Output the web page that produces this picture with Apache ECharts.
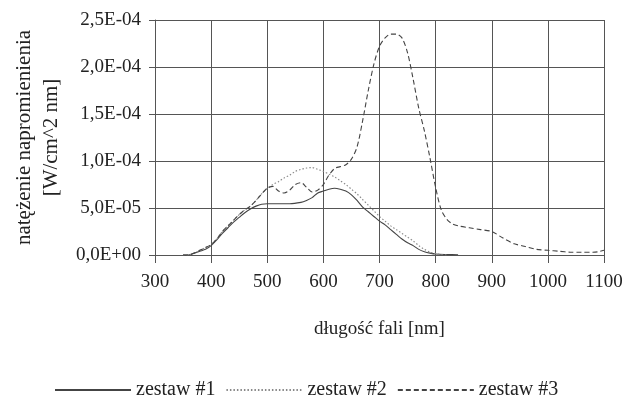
<!DOCTYPE html>
<html>
<head>
<meta charset="utf-8">
<script src="https://cdn.jsdelivr.net/npm/echarts@6/dist/echarts.min.js"></script>
<style>
html,body{margin:0;padding:0;background:#fff;}
#chart{width:626px;height:400px;}
</style>
</head>
<body>
<div id="chart"></div>
<script>
// ---- data ----
const xTicks = [300, 400, 500, 600, 700, 800, 900, 1000, 1100];
const yTicks = [0, 5e-5, 1e-4, 1.5e-4, 2e-4, 2.5e-4];

const seriesNames = ['zestaw #1', 'zestaw #2', 'zestaw #3'];

const wl1 = [350,360,370,380,390,400,410,420,430,440,450,460,470,480,490,500,520,540,560,570,580,590,600,610,620,630,640,650,660,670,680,690,700,710,720,730,740,750,760,770,780,790,800,820,840];
const val1 = [0,0,0.2e-5,0.4e-5,0.6e-5,1.0e-5,1.6e-5,2.3e-5,2.9e-5,3.5e-5,4.0e-5,4.5e-5,4.9e-5,5.2e-5,5.4e-5,5.45e-5,5.45e-5,5.45e-5,5.6e-5,5.8e-5,6.1e-5,6.6e-5,6.8e-5,7.0e-5,7.1e-5,7.0e-5,6.8e-5,6.4e-5,5.8e-5,5.1e-5,4.6e-5,4.1e-5,3.6e-5,3.2e-5,2.7e-5,2.2e-5,1.7e-5,1.3e-5,1.0e-5,0.6e-5,0.35e-5,0.2e-5,0.1e-5,0.05e-5,0.02e-5];

const wl2 = [350,360,370,380,390,400,410,420,430,440,450,460,470,480,490,500,510,520,530,540,550,560,570,580,590,600,610,620,630,640,650,660,670,680,690,700,710,720,730,740,750,760,770,780,790,800,810,820];
const val2 = [0,0,0.2e-5,0.5e-5,0.8e-5,1.1e-5,1.7e-5,2.5e-5,3.1e-5,3.7e-5,4.3e-5,4.8e-5,5.2e-5,5.8e-5,6.5e-5,7.1e-5,7.5e-5,7.8e-5,8.2e-5,8.5e-5,8.9e-5,9.1e-5,9.25e-5,9.3e-5,9.1e-5,8.9e-5,8.6e-5,8.3e-5,7.9e-5,7.5e-5,7.0e-5,6.5e-5,5.9e-5,5.3e-5,4.7e-5,4.1e-5,3.6e-5,3.1e-5,2.7e-5,2.3e-5,1.9e-5,1.5e-5,1.0e-5,0.6e-5,0.3e-5,0.15e-5,0.05e-5,0];

const wl3 = [350,360,370,380,390,400,410,420,430,440,450,460,470,480,490,500,510,520,530,540,550,560,570,580,590,600,610,620,630,640,650,660,670,680,690,700,710,720,730,740,750,760,770,780,790,800,810,820,830,840,860,880,900,920,940,960,980,1000,1020,1040,1060,1080,1090,1100];
const val3 = [0,0,0.2e-5,0.5e-5,0.8e-5,1.1e-5,1.7e-5,2.5e-5,3.1e-5,3.7e-5,4.3e-5,4.8e-5,5.2e-5,5.8e-5,6.5e-5,7.1e-5,7.3e-5,6.8e-5,6.6e-5,6.9e-5,7.5e-5,7.7e-5,7.2e-5,6.7e-5,6.9e-5,7.5e-5,8.5e-5,9.2e-5,9.4e-5,9.6e-5,10.2e-5,11.5e-5,14.3e-5,17.5e-5,20.3e-5,22.2e-5,23.1e-5,23.5e-5,23.5e-5,23.1e-5,21.5e-5,18.7e-5,15.6e-5,13.2e-5,10.3e-5,7.2e-5,4.8e-5,3.8e-5,3.3e-5,3.1e-5,2.9e-5,2.7e-5,2.5e-5,1.8e-5,1.2e-5,0.9e-5,0.6e-5,0.5e-5,0.4e-5,0.3e-5,0.3e-5,0.3e-5,0.35e-5,0.5e-5];

const xAxisTitle = 'długość fali [nm]';
const yAxisTitle = 'natężenie napromienienia\n[W/cm^2 nm]';

// ---- helpers ----
function pairs(xs, ys) { return xs.map((x, i) => [x, ys[i]]); }
function sciFmt(v) {
  const s = Number(v).toExponential(1);
  let [m, e] = s.split('e');
  const sign = e[0] === '-' ? '-' : '+';
  let d = e.replace(/[+-]/, '');
  if (d.length < 2) d = '0' + d;
  return m.replace('.', ',') + 'E' + sign + d;
}

const FONT = '"Liberation Serif", "Times New Roman", serif';
const GRID = '#555';

const chart = echarts.init(document.getElementById('chart'), null, { renderer: 'canvas' });
chart.setOption({
  backgroundColor: '#ffffff',
  animation: false,
  grid: { left: 155, right: 22, top: 20, bottom: 145 },
  legend: {
    left: 49, top: 375,
    itemWidth: 76, itemHeight: 12, itemGap: 10,
    itemStyle: { opacity: 0 },
    textStyle: { fontFamily: FONT, fontSize: 20, color: '#222' },
    data: seriesNames
  },
  xAxis: {
    type: 'value',
    min: xTicks[0], max: xTicks[xTicks.length - 1], interval: 100,
    name: xAxisTitle, nameLocation: 'middle', nameGap: 65,
    nameTextStyle: { fontFamily: FONT, fontSize: 19, color: '#222' },
    axisLine: { show: true, lineStyle: { color: GRID, width: 1 } },
    axisTick: { show: true, length: 8, lineStyle: { color: GRID } },
    axisLabel: { fontFamily: FONT, fontSize: 19, color: '#222', margin: 18, formatter: v => String(v) },
    splitLine: { show: true, lineStyle: { color: GRID, width: 1 } }
  },
  yAxis: {
    type: 'value',
    min: yTicks[0], max: yTicks[yTicks.length - 1], interval: 5e-5,
    name: yAxisTitle, nameLocation: 'middle', nameGap: 90, nameRotate: 90,
    nameTextStyle: { fontFamily: FONT, fontSize: 21, color: '#222', lineHeight: 27, align: 'center' },
    axisLine: { show: true, lineStyle: { color: GRID, width: 1 } },
    axisTick: { show: true, length: 6, lineStyle: { color: GRID } },
    axisLabel: { fontFamily: FONT, fontSize: 19, color: '#222', margin: 14, formatter: sciFmt },
    splitLine: { show: true, lineStyle: { color: GRID, width: 1 } }
  },
  series: [
    { name: seriesNames[0], type: 'line', data: pairs(wl1, val1), smooth: 0.3, symbol: 'none',
      lineStyle: { color: '#444', width: 1.1, type: 'solid' }, itemStyle: { color: '#444' } },
    { name: seriesNames[1], type: 'line', data: pairs(wl2, val2), smooth: 0.3, symbol: 'none',
      lineStyle: { color: '#888', width: 1.1, type: [1.5, 2] }, itemStyle: { color: '#888' } },
    { name: seriesNames[2], type: 'line', data: pairs(wl3, val3), smooth: 0.3, symbol: 'none',
      lineStyle: { color: '#444', width: 1.1, type: [5, 3] }, itemStyle: { color: '#444' } }
  ]
});
</script>
</body>
</html>
